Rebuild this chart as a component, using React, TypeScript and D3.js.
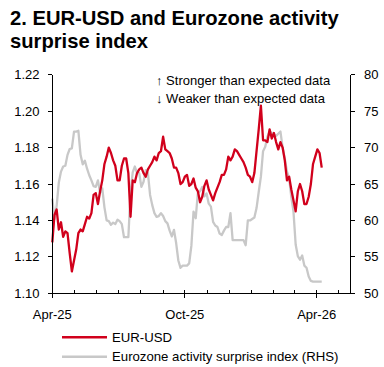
import React from 'react';
import * as d3 from 'd3';

// Series sampled every 3 calendar days from 1 Apr 2025
const START_DATE = '2025-04-01';
const AXIS_END = '2026-05-18';
const STEP_DAYS = 3;

const eurUsd = [
  1.128, 1.143, 1.146, 1.135, 1.139, 1.131, 1.134, 1.133, 1.122, 1.112,
  1.118, 1.124, 1.133, 1.135, 1.134, 1.138, 1.142, 1.141, 1.144, 1.154,
  1.155, 1.149, 1.156, 1.162, 1.171, 1.175, 1.180, 1.177, 1.173, 1.170,
  1.162, 1.162, 1.170, 1.174, 1.174, 1.166, 1.142, 1.162, 1.161, 1.166,
  1.168, 1.169, 1.166, 1.164, 1.168, 1.170, 1.172, 1.175, 1.173, 1.177,
  1.178, 1.186, 1.179, 1.178, 1.177, 1.174, 1.169, 1.169, 1.166, 1.160,
  1.161, 1.164, 1.165, 1.159, 1.160, 1.163, 1.158, 1.156, 1.150, 1.153,
  1.159, 1.162, 1.157, 1.154, 1.151, 1.155, 1.158, 1.161, 1.165, 1.165,
  1.168, 1.175, 1.173, 1.175, 1.179, 1.178, 1.176, 1.174, 1.172, 1.169,
  1.165, 1.164, 1.161, 1.166, 1.178, 1.190, 1.203, 1.184, 1.184, 1.183,
  1.190, 1.185, 1.188, 1.183, 1.179, 1.183, 1.180, 1.173, 1.162, 1.164,
  1.157, 1.151, 1.145, 1.156, 1.160, 1.156, 1.149, 1.149, 1.153, 1.160,
  1.171, 1.175, 1.179, 1.177, 1.169,
];

const surprise = [
  63.0, 60.2, 62.0, 65.2, 66.7, 67.4, 67.5, 69.0, 69.8, 69.9,
  72.2, 72.2, 72.3, 69.0, 67.7, 68.2, 67.1, 66.2, 65.5, 64.7,
  64.6, 65.5, 63.8, 64.4, 61.8, 60.0, 59.9, 59.4, 59.7, 59.5,
  60.1, 59.9, 59.5, 57.7, 57.7, 57.7, 63.8, 66.6, 67.4, 66.5,
  66.5, 64.6, 65.3, 66.9, 66.5, 63.5, 62.1, 61.0, 60.5, 60.6,
  61.0, 60.6, 59.9, 59.6, 58.6, 57.8, 58.7, 56.9, 54.5, 53.5,
  53.8, 53.8, 53.8, 54.1, 56.5, 61.2, 60.3, 63.8, 64.0, 64.6,
  63.3, 63.7, 62.3, 61.9, 59.8, 59.3, 59.1, 58.2, 58.0, 58.6,
  59.1, 59.1, 61.0, 57.3, 57.3, 57.3, 57.3, 57.3, 57.3, 56.6,
  60.0, 60.0, 60.2, 60.4, 61.7, 63.9, 66.0, 69.5, 70.1, 71.5,
  72.2, 72.0, 71.7, 71.6, 71.9, 72.2, 70.0, 68.5, 66.7, 65.8,
  63.2, 61.2, 56.7, 55.1, 54.6, 55.2, 53.8, 53.5, 52.3, 51.7,
  51.6, 51.6, 51.6, 51.6, 51.6,
];

const leftTicks = [1.10, 1.12, 1.14, 1.16, 1.18, 1.20, 1.22];
const rightTicks = [50, 55, 60, 65, 70, 75, 80];
const labelMonths = [3, 9]; // Apr and Oct get labels

const titleLines = ['2. EUR-USD and Eurozone activity', 'surprise index'];
const noteLines = ['\u2191 Stronger than expected data', '\u2193 Weaker than expected data'];
const legendNames = ['EUR-USD', 'Eurozone activity surprise index (RHS)'];

const RED = '#d1001c';
const GREY = '#c8c8c8';
const FONT = '"Liberation Sans", Arial, sans-serif';

export default function App() {
  const W = 384;
  const H = 367;
  const left = 52.3;
  const right = 350.7;
  const top = 74.7;
  const bottom = 293.3;

  const start = new Date(START_DATE + 'T00:00:00Z');
  const end = new Date(AXIS_END + 'T00:00:00Z');
  const dates = eurUsd.map((_, i) => d3.utcDay.offset(start, i * STEP_DAYS));

  const x = d3.scaleUtc().domain([start, end]).range([left, right]);
  const yL = d3.scaleLinear().domain([1.10, 1.22]).range([bottom, top]);
  const yR = d3.scaleLinear().domain([50, 80]).range([bottom, top]);

  const redLine = d3.line<number>()
    .x((_, i) => x(dates[i]))
    .y(d => yL(d));
  const greyLine = d3.line<number>()
    .x((_, i) => x(dates[i]))
    .y(d => yR(d));

  const months = d3.utcMonth.range(start, end);
  const fmt = d3.utcFormat('%b-%y');

  return (
    <div style={{ position: 'absolute', left: 0, top: 0 }}>
      <svg width={W} height={H} style={{ display: 'block', background: '#fff' }} fontFamily={FONT}>
        {/* title */}
        {titleLines.map((t, i) => (
          <text key={t} x={10} y={25 + i * 22.5} fontSize={20.2} fontWeight="bold" fill="#000">
            {t}
          </text>
        ))}

        {/* series */}
        <path d={greyLine(surprise) || ''} fill="none" stroke={GREY} strokeWidth={2.3} strokeLinejoin="round" />
        <path d={redLine(eurUsd) || ''} fill="none" stroke={RED} strokeWidth={2.3} strokeLinejoin="round" />

        {/* axes */}
        <g stroke="#000" strokeWidth={1} shapeRendering="crispEdges">
          <line x1={left} x2={left} y1={top} y2={bottom} />
          <line x1={right} x2={right} y1={top} y2={bottom} />
          <line x1={left} x2={right} y1={bottom} y2={bottom} />
          {leftTicks.map(t => (
            <line key={'l' + t} x1={left - 4} x2={left} y1={yL(t)} y2={yL(t)} />
          ))}
          {rightTicks.map(t => (
            <line key={'r' + t} x1={right} x2={right + 4} y1={yR(t)} y2={yR(t)} />
          ))}
          {months.map(m => {
            const major = labelMonths.includes(m.getUTCMonth());
            return (
              <line key={m.toISOString()} x1={x(m)} x2={x(m)}
                y1={bottom - 3} y2={major ? bottom + 5 : bottom} />
            );
          })}
        </g>

        {/* tick labels */}
        <g fontSize={13} fill="#000">
          {leftTicks.map(t => (
            <text key={'lt' + t} x={39.5} y={yL(t)} dy="0.35em" textAnchor="end">{t.toFixed(2)}</text>
          ))}
          {rightTicks.map(t => (
            <text key={'rt' + t} x={364} y={yR(t)} dy="0.35em">{t}</text>
          ))}
          {months.filter(m => labelMonths.includes(m.getUTCMonth())).map(m => (
            <text key={'xt' + m.toISOString()} x={x(m)} y={319} textAnchor="middle">{fmt(m)}</text>
          ))}
        </g>

        {/* annotation */}
        <g fontSize={13} fill="#000">
          {noteLines.map((t, i) => (
            <text key={t} x={156} y={85 + i * 17.5}>{t}</text>
          ))}
        </g>

        {/* legend */}
        <g fontSize={13.2} fill="#000">
          {legendNames.map((name, i) => (
            <g key={name}>
              <line x1={62} x2={107} y1={337.3 + i * 19.4} y2={337.3 + i * 19.4}
                stroke={i === 0 ? RED : GREY} strokeWidth={2.6} />
              <text x={112} y={337.3 + i * 19.4} dy="0.35em">{name}</text>
            </g>
          ))}
        </g>
      </svg>
    </div>
  );
}
